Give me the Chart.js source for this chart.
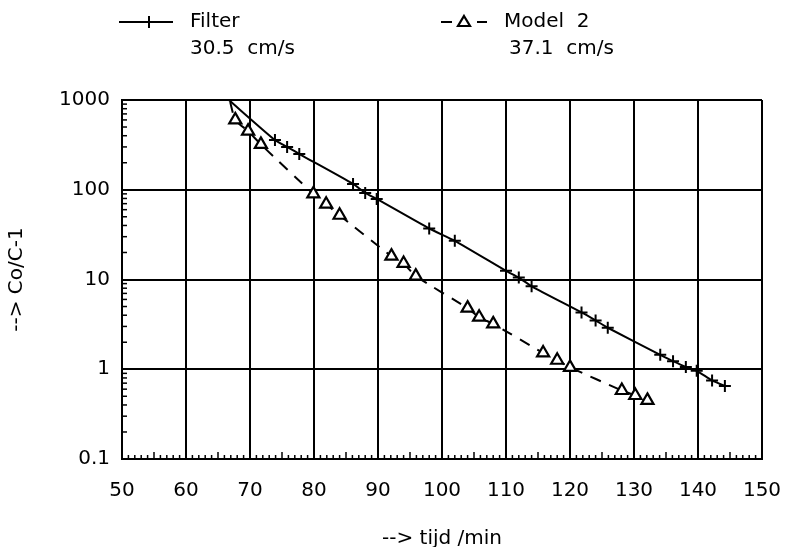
<!DOCTYPE html>
<html>
<head>
<meta charset="utf-8">
<script src="https://cdn.jsdelivr.net/npm/chart.js@4.4.0/dist/chart.umd.min.js"></script>
<style>
  html, body { margin: 0; padding: 0; background: #fff; }
  #wrap { width: 787px; height: 547px; }
</style>
</head>
<body>
<div id="wrap"><canvas id="chart" width="787" height="547"></canvas></div>
<script>
// Values (tijd in min, Co/C-1 on a log axis)
// first entry of each series is only where the curve enters the frame
const filterTime  = [66.7, 73.9, 75.8, 77.7, 86.1, 88.0, 89.8, 98.0, 102.0, 110.0, 112.0, 114.0, 121.8, 124.0, 125.9, 134.1, 136.1, 138.1, 139.8, 142.2, 144.2];
const filterValue = [1000, 358, 300, 250, 116, 92, 79, 37, 27, 12.5, 10.5, 8.4, 4.3, 3.5, 2.9, 1.45, 1.23, 1.06, 0.96, 0.75, 0.65];

const modelTime  = [66.9, 67.7, 69.7, 71.7, 79.9, 81.9, 84.0, 92.1, 94.0, 95.9, 104.0, 105.8, 108.0, 115.8, 118.0, 120.0, 128.1, 130.2, 132.1];
const modelValue = [950, 600, 450, 320, 90, 69, 52, 18.2, 15.1, 10.9, 4.8, 3.8, 3.2, 1.52, 1.26, 1.05, 0.58, 0.51, 0.45];

const xTicks = [50, 60, 70, 80, 90, 100, 110, 120, 130, 140, 150];
const yTicks = [0.1, 1, 10, 100, 1000];
const minorSteps = [2, 3, 4, 5, 6, 7, 8, 9];

const legendItems = [
    { name: 'Filter',  speed: '30.5  cm/s' },
    { name: 'Model  2', speed: '37.1  cm/s' }
];

const FONT = '"DejaVu Sans", sans-serif';
const INK = '#000';

function toPoints(xs, ys) {
    return xs.map((x, i) => ({ x: x, y: ys[i] }));
}

// small inward ticks on both axes + the two-line legend at the top
const decorations = {
    id: 'decorations',
    afterDraw(chart) {
        const ctx = chart.ctx;
        const xs = chart.scales.x;
        const ys = chart.scales.y;
        const area = chart.chartArea;
        ctx.save();
        ctx.strokeStyle = INK;
        ctx.lineWidth = 1.5;

        // y minor ticks
        for (let d = 0; d < yTicks.length - 1; d++) {
            minorSteps.forEach((m) => {
                const py = ys.getPixelForValue(yTicks[d] * m);
                ctx.beginPath();
                ctx.moveTo(area.left, py);
                ctx.lineTo(area.left + 5, py);
                ctx.stroke();
            });
        }
        // x minor ticks, one per minute
        for (let t = xTicks[0]; t <= xTicks[xTicks.length - 1]; t++) {
            const px = xs.getPixelForValue(t);
            const len = (t % 5 === 0) ? 7 : 4;
            ctx.beginPath();
            ctx.moveTo(px, area.bottom);
            ctx.lineTo(px, area.bottom - len);
            ctx.stroke();
        }

        // legend
        ctx.fillStyle = INK;
        ctx.font = '20px ' + FONT;
        ctx.textBaseline = 'middle';
        ctx.textAlign = 'left';

        // Filter: solid line with a cross
        ctx.lineWidth = 2;
        ctx.beginPath();
        ctx.moveTo(119, 22);
        ctx.lineTo(173, 22);
        ctx.moveTo(149, 16);
        ctx.lineTo(149, 28);
        ctx.stroke();
        ctx.fillText(legendItems[0].name, 190, 22);
        ctx.fillText(legendItems[0].speed, 190, 49);

        // Model 2: dash, triangle, dash
        ctx.beginPath();
        ctx.moveTo(441, 22);
        ctx.lineTo(452, 22);
        ctx.moveTo(477, 22);
        ctx.lineTo(487, 22);
        ctx.stroke();
        ctx.lineWidth = 2.2;
        ctx.beginPath();
        ctx.moveTo(464, 16);
        ctx.lineTo(470, 26);
        ctx.lineTo(458, 26);
        ctx.closePath();
        ctx.stroke();
        ctx.fillText(legendItems[1].name, 504, 22);
        ctx.fillText(legendItems[1].speed, 509, 49);

        ctx.restore();
    }
};

const config = {
    type: 'line',
    data: {
        datasets: [
            {
                label: 'Filter',
                data: toPoints(filterTime, filterValue),
                borderColor: INK,
                borderWidth: 2,
                pointStyle: 'cross',
                pointRadius: (c) => c.dataIndex === 0 ? 0 : 6,
                pointBorderColor: INK,
                pointBorderWidth: 2,
                tension: 0.2,
                fill: false
            },
            {
                label: 'Model 2',
                data: toPoints(modelTime, modelValue),
                borderColor: INK,
                borderWidth: 2,
                borderDash: [11, 9],
                pointStyle: 'triangle',
                pointRadius: (c) => c.dataIndex === 0 ? 0 : 7,
                pointBackgroundColor: '#fff',
                pointBorderColor: INK,
                pointBorderWidth: 2.2,
                tension: 0.2,
                fill: false
            }
        ]
    },
    options: {
        responsive: false,
        animation: false,
        layout: {
            padding: { top: 100, right: 25, left: 0, bottom: 0 }
        },
        plugins: {
            legend: { display: false },
            tooltip: { enabled: false }
        },
        scales: {
            x: {
                type: 'linear',
                min: 50,
                max: 150,
                afterBuildTicks: (s) => { s.ticks = xTicks.map((v) => ({ value: v })); },
                afterFit: (s) => { s.height = 88; s.paddingLeft = 0; s.paddingRight = 0; },
                grid: { color: INK, lineWidth: 2, drawTicks: false },
                border: { display: true, color: INK, width: 2 },
                ticks: {
                    color: INK,
                    padding: 20,
                    maxRotation: 0,
                    font: { family: FONT, size: 20 }
                },
                title: {
                    display: true,
                    text: '--> tijd /min',
                    color: INK,
                    font: { family: FONT, size: 20, lineHeight: 1 },
                    padding: { top: 0, bottom: -2 }
                }
            },
            y: {
                type: 'logarithmic',
                min: 0.1,
                max: 1000,
                afterBuildTicks: (s) => { s.ticks = yTicks.map((v) => ({ value: v })); },
                afterFit: (s) => { s.width = 122; s.paddingTop = 0; s.paddingBottom = 0; },
                grid: { color: INK, lineWidth: 2, drawTicks: false },
                border: { display: true, color: INK, width: 2 },
                ticks: {
                    color: INK,
                    padding: 12,
                    font: { family: FONT, size: 20 },
                    callback: (v) => yTicks.includes(v) ? String(v) : ''
                },
                title: {
                    display: true,
                    text: '--> Co/C-1',
                    color: INK,
                    font: { family: FONT, size: 20, lineHeight: 1.2 },
                    padding: { top: 5, bottom: 0 }
                }
            }
        }
    },
    plugins: [decorations]
};

new Chart(document.getElementById('chart'), config);
</script>
</body>
</html>
